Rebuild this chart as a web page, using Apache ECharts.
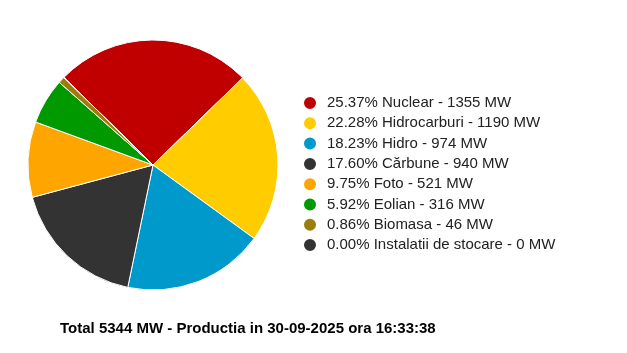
<!DOCTYPE html>
<html>
<head>
<meta charset="utf-8">
<script src="https://cdn.jsdelivr.net/npm/echarts@6/dist/echarts.min.js"></script>
<style>
  html, body { margin: 0; padding: 0; background: #fff; }
  #chart { width: 627px; height: 353px; }
</style>
</head>
<body>
<div id="chart"></div>
<script>
// surse de productie
const sources = ["Nuclear", "Hidrocarburi", "Hidro", "Cărbune", "Foto", "Eolian", "Biomasa", "Instalatii de stocare"];
const megawatts = [1355, 1190, 974, 940, 521, 316, 46, 0];
const percents = ["25.37", "22.28", "18.23", "17.60", "9.75", "5.92", "0.86", "0.00"];
const colors = ["#c00000", "#ffcc00", "#0099cc", "#333333", "#ffa500", "#009900", "#9a7d0a", "#333333"];
const total = 5344;
const timestamp = "30-09-2025 ora 16:33:38";

const chart = echarts.init(document.getElementById("chart"));

const option = {
  animation: false,
  color: colors,
  title: {
    text: "Total " + total + " MW - Productia in " + timestamp,
    left: 55,
    top: 316,
    textStyle: {
      fontFamily: "Liberation Sans, Arial",
      fontSize: 15,
      fontWeight: "bold",
      color: "#000",
    },
  },
  legend: {
    orient: "vertical",
    left: 297,
    top: 90,
    icon: "circle",
    itemWidth: 14,
    itemHeight: 14,
    itemGap: 4.3,
    textStyle: {
      fontFamily: "Liberation Sans, Arial",
      fontSize: 15,
      lineHeight: 16,
      color: "#222",
      padding: [0, 0, 0, 5],
    },
    formatter: function (name) {
      const i = sources.indexOf(name);
      return percents[i] + "% " + name + " - " + megawatts[i] + " MW";
    },
    data: sources,
  },
  series: [
    {
      type: "pie",
      center: [153, 165],
      radius: 125,
      startAngle: 135.5,
      clockwise: true,
      label: { show: false },
      labelLine: { show: false },
      emphasis: { disabled: true },
      itemStyle: { borderColor: "#fff", borderWidth: 1 },
      stillShowZeroSum: true,
      data: sources.map(function (s, i) {
        return { name: s, value: megawatts[i] };
      }),
    },
  ],
};

chart.setOption(option);
</script>
</body>
</html>
